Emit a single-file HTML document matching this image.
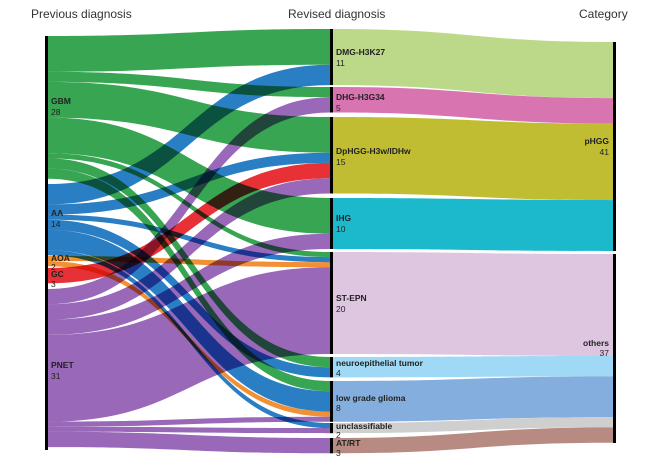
<!DOCTYPE html>
<html><head><meta charset="utf-8"><style>
body{margin:0;background:#fff;width:650px;height:461px;overflow:hidden;font-family:"Liberation Sans",sans-serif}
svg text{font-family:"Liberation Sans",sans-serif}
.l{mix-blend-mode:multiply}
</style></head><body>
<svg id="s" width="650" height="461" viewBox="0 0 650 461" xmlns="http://www.w3.org/2000/svg">
<rect width="650" height="461" fill="#fff"/>
<g id="links"></g>
<g id="rlinks"></g>
<rect x="45" y="36" width="3" height="414" fill="#000"/>
<g id="bars"></g>
<text x="31" y="18" font-size="12" fill="#333">Previous diagnosis</text>
<text x="288" y="18" font-size="12" fill="#333">Revised diagnosis</text>
<text x="579" y="18" font-size="12" fill="#333">Category</text>
<g font-size="8.5" font-weight="bold" fill="#222">
<text x="51" y="104">GBM</text><text x="51" y="115" font-weight="normal">28</text>
<text x="51" y="216">AA</text><text x="51" y="227" font-weight="normal">14</text>
<text x="51" y="261">AOA</text><text x="51" y="270" font-weight="normal">2</text>
<text x="51" y="277">GC</text><text x="51" y="287" font-weight="normal">3</text>
<text x="51" y="368">PNET</text><text x="51" y="379" font-weight="normal">31</text>
<text x="336" y="55">DMG-H3K27</text><text x="336" y="66" font-weight="normal">11</text>
<text x="336" y="100">DHG-H3G34</text><text x="336" y="111" font-weight="normal">5</text>
<text x="336" y="154">DpHGG-H3w/IDHw</text><text x="336" y="165" font-weight="normal">15</text>
<text x="336" y="221">IHG</text><text x="336" y="232" font-weight="normal">10</text>
<text x="336" y="301">ST-EPN</text><text x="336" y="312" font-weight="normal">20</text>
<text x="336" y="366">neuroepithelial tumor</text><text x="336" y="376" font-weight="normal">4</text>
<text x="336" y="401">low grade glioma</text><text x="336" y="411" font-weight="normal">8</text>
<text x="336" y="429">unclassifiable</text><text x="336" y="438" font-weight="normal">2</text>
<text x="336" y="446">AT/RT</text><text x="336" y="456" font-weight="normal">3</text>
<text x="609" y="144" text-anchor="end">pHGG</text><text x="609" y="155" text-anchor="end" font-weight="normal">41</text>
<text x="609" y="346" text-anchor="end">others</text><text x="609" y="356" text-anchor="end" font-weight="normal">37</text>
</g>
</svg>
<script>
var u=5.1,NS="http://www.w3.org/2000/svg";
var src={GBM:[36,"#2ca048"],AA:[184,"#1f78c1"],AOA:[256,"#f08a2a"],GC:[268,"#e6262b"],PNET:[289,"#9460b4"]};
var mid={DMG:29,DHG:87,DP:117,IHG:198,ST:252,NE:357,LGG:381,UN:423,AT:438};
var flows=[["GBM","DMG",7],["GBM","DHG",2],["GBM","DP",7],["GBM","IHG",7],["GBM","ST",1],["GBM","NE",2],["GBM","LGG",2],
["AA","DMG",4],["AA","DP",2],["AA","ST",1],["AA","NE",2],["AA","LGG",4],["AA","UN",1],
["AOA","ST",1],["AOA","LGG",1],["GC","DP",3],
["PNET","DHG",3],["PNET","DP",3],["PNET","IHG",3],["PNET","ST",17],["PNET","LGG",1],["PNET","UN",1],["PNET","AT",3]];
function path(x0,y0,x1,y1,h){var m=(x0+x1)/2;return "M"+x0+","+y0+"C"+m+","+y0+" "+m+","+y1+" "+x1+","+y1+"L"+x1+","+(y1+h)+"C"+m+","+(y1+h)+" "+m+","+(y0+h)+" "+x0+","+(y0+h)+"Z";}
var so={},mo={};for(var k in src)so[k]=src[k][0];for(var k in mid)mo[k]=mid[k];
var g=document.getElementById("links");
flows.forEach(function(f){var h=f[2]*u;var p=document.createElementNS(NS,"path");
p.setAttribute("d",path(48,so[f[0]],330,mo[f[1]],h));p.setAttribute("fill",src[f[0]][1]);p.setAttribute("fill-opacity","0.95");p.setAttribute("class","l");
g.appendChild(p);so[f[0]]+=h;mo[f[1]]+=h;});
var r=[["DMG",11,"#bcd98a"],["DHG",5,"#d874b0"],["DP",15,"#c0bd33"],["IHG",10,"#1cb8cc"],["ST",20,"#dec6e0"],["NE",4,"#9fd9f5"],["LGG",8,"#84aede"],["UN",2,"#cfcfcf"],["AT",3,"#b78b82"]];
var ry=42,rg=document.getElementById("rlinks"),bg=document.getElementById("bars");
r.forEach(function(e,i){if(i==4)ry=254;var h=e[1]*u;var p=document.createElementNS(NS,"path");
p.setAttribute("d",path(333,mid[e[0]],613,ry,h));p.setAttribute("fill",e[2]);rg.appendChild(p);ry+=h;
var b=document.createElementNS(NS,"rect");b.setAttribute("x",330);b.setAttribute("y",mid[e[0]]);b.setAttribute("width",3);b.setAttribute("height",h);b.setAttribute("fill","#000");bg.appendChild(b);});
[[42,209],[254,189]].forEach(function(a){var b=document.createElementNS(NS,"rect");b.setAttribute("x",613);b.setAttribute("y",a[0]);b.setAttribute("width",3);b.setAttribute("height",a[1]);b.setAttribute("fill","#000");bg.appendChild(b);});
</script>
</body></html>
